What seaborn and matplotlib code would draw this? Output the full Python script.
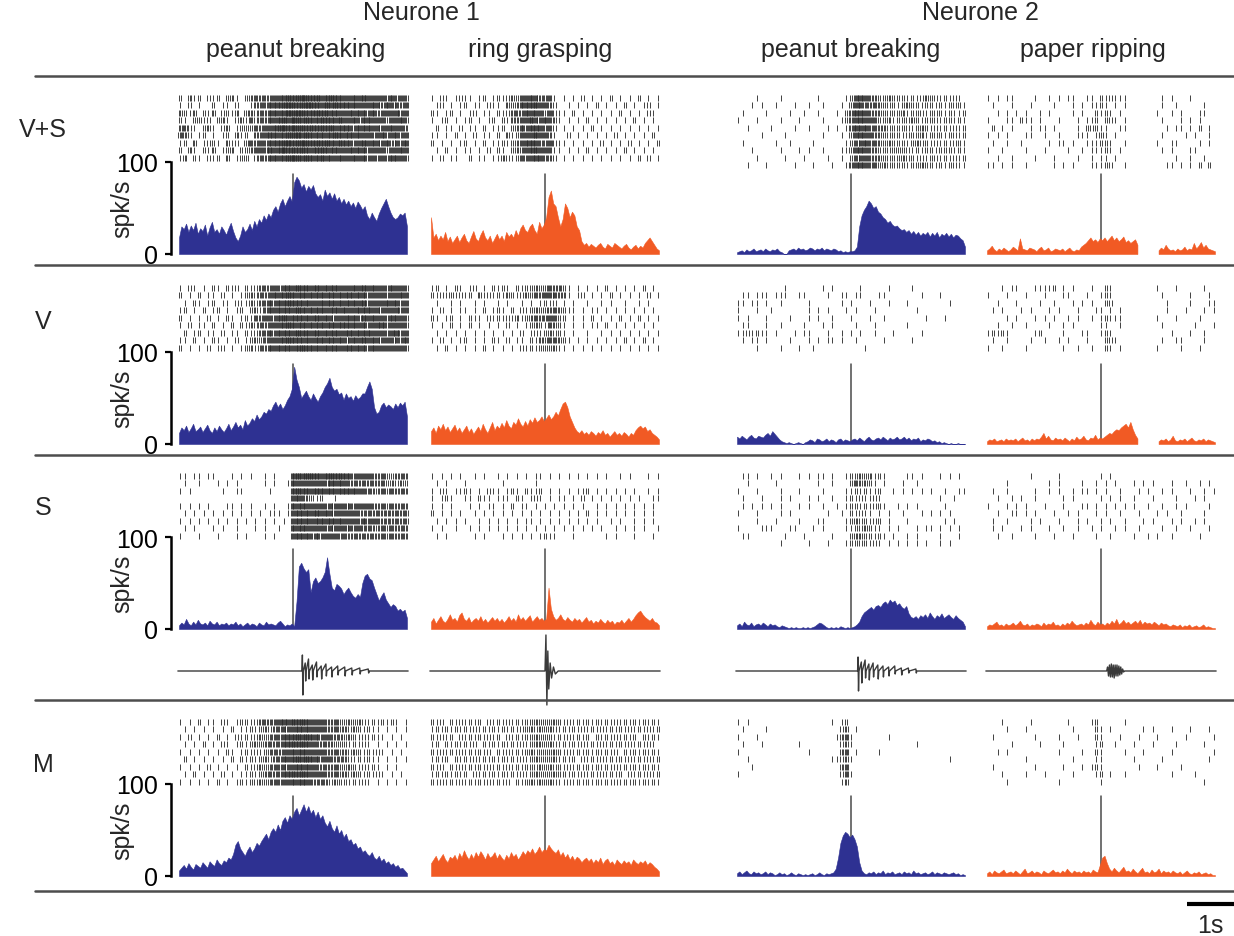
import numpy as np
import pandas as pd
import matplotlib
matplotlib.use("Agg")
import matplotlib.pyplot as plt
from matplotlib.lines import Line2D
import seaborn as sns

nan = float("nan")

# ---------------- labels ----------------
neuron_labels = ["Neurone 1", "Neurone 2"]
action_labels = ["peanut breaking", "ring grasping", "peanut breaking", "paper ripping"]
condition_labels = ["V+S", "V", "S", "M"]
y_tick_values = [0, 100]
y_unit = "spk/s"
scale_bar_seconds = 1
scale_bar_label = "1s"

# time base (s, aligned on the sound event)
T_START, T_END = -2.45, 2.45
PSTH_BIN = 0.05
RASTER_BIN = 0.1
paper_gap = [0.78, 1.19]   # missing period in paper ripping (V+S, V)

# ---------------- PSTH (spk/s), 98 bins of 50 ms ----------------
psth_vs_n1_peanut = [18, 30, 27, 33, 24, 31, 26, 34, 22, 28,
                     25, 32, 20, 29, 35, 24, 27, 22, 30, 26,
                     21, 28, 34, 25, 18, 14, 20, 30, 24, 27,
                     33, 26, 36, 30, 38, 34, 42, 37, 44, 40,
                     48, 52, 46, 55, 60, 52, 58, 63, 57, 78,
                     84, 80, 72, 76, 68, 74, 70, 75, 66, 62,
                     65, 58, 70, 63, 67, 60, 66, 58, 62, 55,
                     60, 54, 58, 52, 56, 50, 57, 53, 48, 52,
                     42, 38, 45, 40, 36, 44, 50, 55, 60, 52,
                     45, 40, 38, 40, 44, 42, 45, 30]
psth_vs_n1_ring = [40, 18, 22, 15, 20, 16, 24, 14, 19, 12,
                   16, 20, 13, 18, 22, 15, 12, 19, 25, 17,
                   14, 21, 26, 18, 15, 20, 12, 17, 22, 16,
                   20, 14, 24, 19, 22, 18, 26, 20, 28, 32,
                   26, 24, 30, 33, 26, 22, 35, 28, 32, 40,
                   62, 69, 55, 52, 40, 30, 38, 55, 50, 40,
                   46, 42, 30, 26, 14, 10, 12, 8, 11, 9,
                   7, 10, 12, 8, 6, 11, 9, 7, 12, 10,
                   8, 6, 9, 11, 7, 5, 8, 10, 6, 9,
                   7, 12, 15, 18, 14, 10, 6, 4]
psth_vs_n2_peanut = [2, 3, 4, 2, 5, 3, 4, 6, 3, 4,
                     5, 3, 6, 4, 3, 5, 4, 6, 3, 2,
                     0, 0, 4, 5, 6, 4, 7, 5, 6, 4,
                     5, 7, 6, 4, 6, 5, 7, 4, 6, 5,
                     4, 6, 5, 3, 4, 2, 3, 2, 3, 3,
                     4, 8, 30, 42, 48, 52, 58, 55, 50, 52,
                     46, 44, 40, 38, 34, 36, 32, 30, 31, 28,
                     26, 27, 24, 26, 22, 25, 21, 24, 20, 23,
                     21, 24, 19, 23, 20, 24, 18, 22, 20, 23,
                     19, 22, 18, 21, 20, 17, 15, 8]
psth_vs_n2_paper = [4, 6, 9, 5, 3, 6, 4, 7, 5, 3,
                    5, 8, 6, 4, 17, 6, 5, 4, 7, 6,
                    5, 3, 6, 8, 4, 5, 7, 3, 4, 6,
                    5, 4, 6, 3, 5, 7, 4, 3, 5, 4,
                    8, 10, 12, 15, 18, 14, 16, 13, 17, 15,
                    18, 14, 17, 20, 15, 18, 14, 16, 19, 13,
                    15, 12, 14, 16, 10, nan, nan, nan, nan, nan,
                    nan, nan, nan, 4, 7, 5, 10, 6, 4, 5,
                    3, 6, 4, 5, 8, 4, 6, 5, 12, 6,
                    9, 13, 7, 10, 6, 5, 4, 3]

psth_v_n1_peanut = [12, 18, 15, 20, 13, 17, 22, 14, 16, 19,
                    13, 17, 21, 15, 12, 18, 14, 20, 16, 13,
                    17, 22, 15, 19, 24, 18, 21, 16, 26, 20,
                    23, 28, 25, 32, 27, 30, 35, 33, 38, 36,
                    42, 46, 40, 44, 38, 42, 48, 52, 60, 84,
                    70, 62, 50, 54, 58, 52, 48, 55, 50, 46,
                    52, 56, 62, 66, 72, 62, 58, 60, 54, 56,
                    48, 55, 50, 52, 47, 53, 49, 51, 55, 55,
                    62, 68, 60, 40, 33, 35, 42, 45, 40, 43,
                    41, 38, 44, 40, 45, 42, 46, 30]
psth_v_n1_ring = [14, 18, 12, 20, 16, 22, 15, 19, 13, 17,
                  21, 14, 18, 12, 16, 20, 13, 17, 11, 15,
                  19, 14, 22, 16, 12, 18, 24, 15, 20, 17,
                  23, 18, 26, 20, 17, 24, 21, 28, 22, 19,
                  25, 20, 27, 23, 29, 24, 26, 30, 25, 28,
                  32, 27, 30, 35, 31, 38, 44, 46, 40, 30,
                  24, 18, 14, 12, 15, 11, 13, 10, 14, 12,
                  9, 13, 11, 15, 10, 12, 8, 11, 14, 10,
                  12, 9, 13, 11, 8, 12, 10, 15, 18, 20,
                  17, 19, 14, 16, 12, 10, 8, 5]
psth_v_n2_peanut = [8, 6, 9, 7, 5, 8, 10, 7, 6, 9,
                    8, 7, 10, 12, 9, 14, 11, 8, 5, 3,
                    2, 1, 2, 1, 0, 1, 2, 1, 0, 2,
                    3, 5, 4, 2, 6, 5, 3, 4, 6, 3,
                    5, 4, 2, 5, 6, 3, 5, 4, 3, 5,
                    6, 4, 7, 5, 3, 6, 8, 5, 4, 6,
                    7, 5, 8, 6, 4, 7, 5, 6, 8, 5,
                    6, 8, 5, 7, 4, 6, 5, 7, 3, 5,
                    4, 6, 5, 3, 4, 2, 3, 1, 2, 1,
                    0, 1, 0, 0, 1, 0, 0, 0]
psth_v_n2_paper = [3, 5, 4, 6, 3, 4, 5, 3, 6, 4,
                   5, 4, 6, 3, 5, 7, 4, 5, 3, 6,
                   4, 6, 5, 8, 12, 6, 9, 5, 4, 7,
                   5, 6, 4, 7, 5, 3, 6, 4, 8, 5,
                   6, 9, 5, 4, 7, 6, 10, 5, 7, 6,
                   8, 10, 12, 11, 14, 16, 15, 18, 20, 22,
                   18, 24, 16, 10, 6, nan, nan, nan, nan, nan,
                   nan, nan, nan, 3, 5, 4, 6, 3, 5, 9,
                   4, 3, 5, 4, 6, 3, 5, 7, 4, 3,
                   5, 4, 6, 3, 5, 4, 3, 2]

psth_s_n1_peanut = [4, 7, 5, 11, 6, 4, 8, 5, 10, 6,
                    5, 7, 4, 9, 6, 5, 8, 4, 6, 5,
                    7, 4, 6, 5, 8, 4, 6, 3, 5, 7,
                    4, 6, 5, 3, 7, 5, 4, 8, 5, 6,
                    5, 4, 7, 9, 6, 3, 5, 4, 6, 3,
                    30, 68, 72, 66, 62, 65, 40, 52, 56, 50,
                    52, 56, 62, 78, 60, 45, 42, 49, 47, 44,
                    38, 42, 45, 40, 36, 34, 38, 35, 50, 58,
                    60, 55, 53, 45, 38, 31, 36, 40, 32, 28,
                    24, 27, 25, 20, 22, 19, 21, 12]
psth_s_n1_ring = [8, 12, 6, 10, 14, 9, 7, 11, 16, 10,
                  12, 8, 15, 18, 11, 9, 13, 7, 10, 12,
                  9, 14, 8, 11, 7, 10, 13, 9, 12, 8,
                  11, 7, 10, 14, 9, 12, 8, 16, 10, 13,
                  9, 12, 15, 8, 11, 14, 10, 12, 9, 11,
                  45, 22, 14, 10, 12, 16, 11, 9, 13, 10,
                  8, 12, 9, 11, 7, 10, 13, 8, 10, 6,
                  9, 7, 11, 8, 6, 10, 7, 9, 5, 8,
                  7, 10, 6, 9, 12, 8, 11, 15, 18, 20,
                  16, 13, 11, 9, 12, 8, 7, 4]
psth_s_n2_peanut = [4, 6, 3, 8, 5, 4, 7, 3, 5, 6,
                    4, 7, 5, 3, 6, 4, 5, 3, 2, 4,
                    3, 2, 1, 2, 1, 2, 1, 1, 2, 1,
                    2, 1, 2, 3, 5, 7, 6, 4, 2, 1,
                    2, 1, 2, 1, 3, 2, 1, 2, 1, 2,
                    3, 5, 8, 14, 18, 20, 22, 24, 21, 25,
                    26, 24, 28, 30, 27, 32, 29, 31, 26, 28,
                    24, 22, 25, 17, 13, 12, 14, 11, 15, 13,
                    16, 12, 18, 14, 11, 15, 13, 17, 12, 14,
                    16, 13, 11, 15, 12, 10, 8, 3]
psth_s_n2_paper = [3, 5, 4, 6, 8, 4, 5, 3, 6, 4,
                   5, 7, 4, 6, 9, 5, 4, 6, 3, 5,
                   4, 6, 5, 3, 7, 4, 6, 5, 8, 4,
                   5, 3, 6, 4, 7, 5, 9, 6, 4, 5,
                   6, 4, 7, 5, 10, 6, 4, 8, 5, 6,
                   4, 7, 5, 9, 6, 11, 5, 7, 10, 6,
                   8, 5, 7, 9, 6, 10, 5, 8, 6, 7,
                   5, 8, 6, 4, 7, 5, 6, 4, 3, 5,
                   4, 3, 5, 2, 4, 3, 5, 2, 3, 4,
                   2, 3, 5, 2, 3, 2, 1, 1]

psth_m_n1_peanut = [6, 9, 12, 8, 14, 10, 7, 13, 11, 9,
                    15, 12, 9, 16, 13, 11, 18, 14, 12, 17,
                    15, 20, 18, 24, 34, 38, 30, 26, 22, 28,
                    32, 26, 30, 36, 33, 38, 42, 46, 40, 48,
                    52, 48, 56, 50, 60, 64, 58, 66, 62, 70,
                    74, 66, 72, 78, 70, 76, 68, 72, 64, 70,
                    62, 66, 58, 54, 60, 52, 48, 55, 46, 50,
                    42, 46, 38, 40, 34, 36, 30, 32, 26, 28,
                    24, 22, 26, 20, 18, 22, 16, 19, 14, 16,
                    12, 14, 10, 12, 8, 9, 6, 3]
psth_m_n1_ring = [14, 18, 22, 16, 20, 24, 18, 15, 21, 19,
                  23, 17, 25, 20, 28, 22, 18, 24, 19, 26,
                  21, 27, 23, 18, 25, 20, 22, 26, 19, 24,
                  20, 17, 23, 19, 26, 21, 24, 18, 22, 27,
                  23, 28, 25, 30, 24, 27, 32, 26, 29, 28,
                  34, 30, 27, 25, 29, 22, 26, 20, 24, 18,
                  22, 17, 21, 19, 15, 18, 20, 16, 19, 14,
                  18, 15, 20, 13, 17, 19, 14, 16, 12, 18,
                  15, 13, 17, 14, 16, 12, 18, 15, 13, 16,
                  14, 17, 12, 15, 13, 10, 8, 5]
psth_m_n2_peanut = [3, 5, 2, 4, 6, 3, 2, 5, 3, 4,
                    2, 3, 5, 2, 4, 3, 1, 2, 4, 2,
                    3, 1, 2, 4, 2, 1, 3, 2, 1, 2,
                    1, 2, 3, 1, 2, 4, 2, 1, 3, 2,
                    3, 4, 8, 20, 36, 44, 48, 46, 42, 45,
                    40, 32, 15, 6, 3, 2, 4, 3, 5, 2,
                    4, 3, 6, 2, 4, 3, 5, 2, 3, 4,
                    2, 5, 3, 4, 2, 6, 3, 4, 2, 3,
                    4, 2, 3, 5, 2, 4, 3, 2, 4, 3,
                    2, 3, 4, 2, 3, 1, 2, 1]
psth_m_n2_paper = [3, 5, 2, 6, 4, 3, 5, 7, 3, 4,
                   5, 3, 6, 4, 2, 5, 8, 3, 4, 6,
                   3, 5, 4, 2, 6, 4, 3, 5, 7, 4,
                   5, 3, 6, 4, 8, 5, 3, 6, 4, 5,
                   3, 6, 4, 5, 3, 7, 5, 4, 12, 20,
                   22, 14, 8, 5, 9, 6, 4, 7, 10, 5,
                   6, 4, 8, 5, 3, 6, 9, 4, 5, 3,
                   7, 4, 5, 8, 3, 6, 4, 5, 3, 6,
                   4, 3, 5, 2, 4, 6, 3, 2, 4, 3,
                   5, 2, 3, 4, 2, 3, 1, 1]

# ---------------- rasters: spikes per 100 ms bin, one string per trial ----------------
raster_vs_n1_peanut = [
    "2031202 1202310 2343435 5676787 6756766 5465655 4546354",
    "1020100 2011020 0134456 6787678 7657676 6565456 5364535",
    "3213021 3022130 3324356 5687876 6767565 4656546 3454645",
    "2102312 0231023 1424355 6758767 6576657 5464565 4535464",
    "3421023 1023012 3243546 7868776 7676756 6546565 5456453",
    "4320120 1012031 2034566 5677867 6565676 5656454 4645545",
    "1203012 2103120 3435456 6786787 6767657 6545656 5463546",
    "2031021 3012302 2345465 6867676 5676565 4656545 4535465",
    "1302102 1203012 3024356 5678767 6575646 5465545 3546554"]
raster_vs_n1_ring = [
    "1021012 1101201 2123245 6534410 1010201 0102010 1020101",
    "0120101 2011021 1032356 6745320 0101010 2010102 0101201",
    "2101201 0120110 2123436 5643521 1020101 0101020 1010210",
    "1012010 1201012 0213345 7546431 0101020 1010101 0201010",
    "0201102 0110201 1202354 6654420 1010102 0101010 1010101",
    "1101020 1020110 2031245 5745310 0201010 1010201 0101020",
    "2010101 2010201 1212346 6634521 1010101 0201010 2010102",
    "0102010 1101020 2102335 6745411 0101020 1010102 0101010",
    "1020110 0201101 1321244 5654320 1010101 0101010 1020201"]
raster_vs_n2_peanut = [
    "0000100 0010000 0001000 0012565 4322322 2121232 2121210",
    "0001010 0100010 0100100 0103554 3432221 2322122 1212221",
    "0100001 0000100 1001000 1024665 4332222 3122212 2212112",
    "1000100 0010001 0000100 0124565 5422312 2232122 2122121",
    "0010000 1000010 0100010 1014656 4433222 2212321 2121212",
    "0000010 0001000 0000100 0103565 5332222 1222312 2212212",
    "0100000 0100100 0010000 0012456 4432322 2123221 2121221",
    "0001000 0010001 0100100 0113565 4322223 2212122 1222121",
    "0000100 0001000 1000010 0102455 4332222 3221212 2121212",
    "0010001 0000010 0010001 0014565 4423222 2122322 1212211"]
raster_vs_n2_paper = [
    "1010110 0001001 0101100 1102121 1100000 0010100 0100000",
    "0100010 0010000 1000101 0112101 0100000 0010010 0000100",
    "0010101 0100101 0000101 0021210 1000000 0100101 0001100",
    "1000110 2110100 0100010 1120221 0100000 0010001 0101000",
    "0201010 0010110 1000010 2221100 1100000 0001011 0102010",
    "1010100 0110010 0100011 1013101 0000000 0010000 1010010",
    "0100100 1000001 0110100 1112210 0100000 0100110 0001010",
    "1001000 0100010 0001001 0111210 1000000 0010100 0110000",
    "0010010 0001000 1000010 0101101 0000000 0000010 0100100",
    "1101010 0100000 1010100 0111220 0100000 0001101 0102020"]

raster_v_n1_peanut = [
    "1021010 2102120 2123435 4565766 5656565 5465656 4546454",
    "2010201 1020101 2324346 5676565 6565656 5656545 4545465",
    "0102101 2011021 1323454 6576656 5465656 5565645 4565545",
    "1201020 1201012 0231455 6565765 6565565 6456565 5454645",
    "2010102 0102101 2143544 6756656 5656545 5564656 4546554",
    "1020110 2010202 1324345 5676565 6565656 6565545 5645454",
    "0201201 1020110 2123454 6565766 5656565 5656565 4545645",
    "1102010 2101020 1232445 5676656 5565656 4565656 5454546",
    "2010102 0120101 2314355 6565676 6556565 5656546 4555454"]
raster_v_n1_ring = [
    "1201021 0120102 1210212 2323434 2101010 1020101 0102010",
    "2121312 1203121 2132123 2435453 3101201 0102010 1010201",
    "0100101 0010100 1010010 1012120 1010010 0101001 0010100",
    "1020101 1010201 2102021 2323343 2110101 1010101 0101010",
    "2101201 0211021 2121312 3434542 2010102 0101020 1020101",
    "1010201 0201010 1020101 2321432 1010101 1020101 0101010",
    "0101010 1010101 0101020 1212322 1010010 0101010 1010101",
    "1020101 2010102 1020110 2133443 2101010 1010102 0102010",
    "0102010 1010201 0101021 2123231 1010101 0101010 1010101"]
raster_v_n2_peanut = [
    "0000000 0001000 0000101 0000010 0000100 0010000 0000000",
    "0110111 0111001 1000010 0110110 0011000 0000100 0100000",
    "1101101 0010000 0100000 0101000 1000100 0100000 0001000",
    "1000100 1000000 0101010 0010100 0100000 0001000 0000000",
    "1010001 0000100 0101001 0001000 1001000 0000010 0010000",
    "0110001 0010000 1000101 0000100 0100000 0100000 0000000",
    "1121211 0100010 1100010 0101010 0100010 0000100 0000000",
    "0101101 0000100 0101011 0100100 0001000 0010000 0000000",
    "0000100 0010001 0010000 0000001 0000000 0000000 0000000"]
raster_v_n2_paper = [
    "0001011 0001111 2010100 0100210 0000000 0100010 0000100",
    "1000100 0100010 0011000 1001210 0000000 0010000 0100010",
    "0010001 0000100 1000101 0100220 0000000 0001000 0100011",
    "0101000 1010001 0100010 0011010 1000000 0001000 1000101",
    "0000101 0001010 1001010 0101211 1000000 0100010 0001000",
    "0010010 0100001 0010100 0001100 1000000 0010000 0010001",
    "1212100 0001200 0010001 1001210 0000000 0000100 0100100",
    "0100100 0010010 0101000 1000221 0000000 0010011 0000100",
    "1001000 0100000 0010010 0100210 1000000 0100001 0001000"]

raster_s_n1_peanut = [
    "1101101 1000101 0100101 0006767 7656767 6545454 3432343",
    "0100100 0101010 0000101 0016545 5454656 5343434 3423232",
    "1010000 0010011 0000010 0006766 5665656 6565443 3434343",
    "0000000 0000000 0000000 0005643 2120010 0000000 0000000",
    "1010101 0001101 0100101 0016565 5454545 4545454 3434343",
    "0101010 1010101 0101011 1015656 5656545 5454343 4343434",
    "1010101 0101010 1010101 0105656 5565656 5454545 4343434",
    "0101000 1010010 0010100 1006565 5454545 4545343 3434343",
    "1000100 0100010 1000101 0005656 4545454 4343434 3434343"]
raster_s_n1_ring = [
    "1010101 0010100 1010101 0110101 0101010 1010010 1000101",
    "0101000 1000000 0100000 0100000 0000000 0000000 0000000",
    "1021011 2101021 1012102 1120101 0101120 1010101 0100101",
    "1012100 1102110 1110210 1210101 1010201 0101010 1010011",
    "1010100 0101011 0102011 0101010 1010100 1010101 0101010",
    "2010101 0010101 0101010 1010101 0101020 1010101 0101010",
    "0101010 1001010 1010101 1010101 0101010 1001010 0101010",
    "1010010 0101010 1010101 0101010 1010101 0100101 0101001",
    "0101000 0010100 0101010 1012110 0010000 0010100 0100010"]
raster_s_n2_peanut = [
    "0110100 1010001 0101101 0012232 3121000 0110100 0101010",
    "0010000 0100000 0001001 0002433 2101000 1001000 0000000",
    "1000100 0010001 0000100 0011212 1120010 1010101 0010011",
    "0100010 0010100 0101001 0012121 1210000 0000000 0100100",
    "0101010 1010001 0100100 1012212 1221001 0101000 0010000",
    "1000100 0010100 0000010 0102121 1010100 1000101 0101000",
    "0000100 0100001 0001100 0012322 1220100 0100000 0010100",
    "1000011 1000110 0010100 0011223 2110101 0001011 0101010",
    "0110000 0001000 1000001 0002332 2121010 0101000 0100010",
    "0000000 0010000 0100010 0012222 1210101 0101010 0101000"]
raster_s_n2_paper = [
    "0000000 0010000 0100000 0001010 0000000 0000000 0000000",
    "0000100 0000001 0100001 0010101 0001010 1000100 1001010",
    "0100100 0001001 0100101 1010100 1000101 0010100 0100101",
    "0010010 1001000 0010100 0001010 1001000 1000010 0010100",
    "1000101 0100010 0010001 1010101 0101001 0010010 1000010",
    "0010011 0101000 1001010 0010100 1000100 0101001 0000100",
    "0100100 0010100 0100010 1001010 0100010 1000101 0010100",
    "0101000 1010001 0010010 0101001 0100100 0010010 0100010",
    "0010010 0001000 1000100 0010010 0001001 0100100 0001000"]

raster_m_n1_peanut = [
    "1010201 1021012 2123434 5657676 5454343 2323212 1212101",
    "0101010 1010201 1212323 4545656 5454343 3232121 1010101",
    "1020101 0201021 2123234 4566767 6545434 2321212 1101010",
    "0101020 1021012 1232343 4567676 5434323 2121210 1010101",
    "1010101 0102101 2121234 3456565 5454343 3232121 2101010",
    "0201010 1010202 1212323 4556767 6545434 3212121 1010101",
    "1010102 0101010 2123234 4545656 5434343 2321212 1010100",
    "0102010 1020101 1212343 4567676 5454343 3232121 2101010",
    "1010101 0201012 1223234 4456565 4343232 2121210 1010101"]
raster_m_n1_ring = [
    "2120212 1212021 2121212 2323232 1212121 2121212 1212121",
    "1212121 2121212 1212122 3232321 2121212 1212121 2121212",
    "2121202 1212121 2021212 2323212 1212120 2121212 1202121",
    "1202121 2120212 1212121 2332321 2121212 1212121 2121210",
    "2121212 1212120 2121212 3223232 1212121 2121202 1212121",
    "1212021 2121212 1212121 2323231 2120212 1212121 2121212",
    "2120212 1212121 2121212 2232322 1212121 2121212 1212121",
    "1212121 2021212 1212121 2323232 2121212 1212120 2121212",
    "2121212 1212121 2120212 3232321 1212121 2121212 1212121"]
raster_m_n2_peanut = [
    "1010000 0000000 0000001 0120000 0000000 0000000 0000000",
    "0100001 0000000 0000000 0230100 0000000 0000000 0000000",
    "1000100 0000000 0000000 1341000 0000100 0000000 0000000",
    "0100010 0000001 0000000 0231000 0000000 0001000 0000000",
    "1000000 0000000 0100000 0340100 0010000 0000000 0000000",
    "0010000 0000000 0000001 1231000 0000000 0000000 0001000",
    "0001000 0000000 0000000 0340000 0000000 0000000 0000000",
    "1000000 0000000 0000000 0241000 0000000 0000000 0000000",
    "0000000 0000000 0000000 0130000 0000000 0000000 0000000"]
raster_m_n2_paper = [
    "0001000 0010000 0001000 0120000 0100000 0000000 0000000",
    "0000100 0100000 0000100 0021010 0000010 1000100 0100010",
    "0100000 0001000 0100010 0021000 1000100 0100000 1000001",
    "0000010 0000100 0010000 0012001 0001000 1000010 0000100",
    "0010100 0000000 0100001 0021000 0100010 0000100 0000001",
    "0000000 0100000 0000100 0011000 0001000 0010000 0000010",
    "0100000 0001000 0010001 0121000 0000100 0100001 0000000",
    "0001000 0100010 0000100 0012010 0100000 0000100 0010000",
    "0000100 0000000 0100000 0001000 0000000 0000000 0000100"]

# ---------------- sound oscillograms (time s, amplitude a.u.) ----------------
sound_n1_peanut_t = [-2.45, 0.19, 0.20, 0.21, 0.22, 0.26, 0.27, 0.28, 0.33, 0.34, 0.35,
                     0.41, 0.42, 0.43, 0.50, 0.51, 0.52, 0.60, 0.61, 0.62, 0.70, 0.71, 0.72,
                     0.82, 0.83, 0.84, 0.95, 0.96, 0.97, 1.10, 1.11, 1.12, 1.25, 1.26, 1.27,
                     1.42, 1.43, 1.44, 1.60, 1.61, 1.62, 2.45]
sound_n1_peanut_a = [0, 0, 16, -24, 0, 8, -10, 0, 12, -8, 0,
                     6, -9, 0, 9, -6, 0, 5, -8, 0, 7, -5, 0,
                     4, -6, 0, 5, -4, 0, 4, -5, 0, 3, -4, 0,
                     3, -3, 0, 2, -2, 0, 0]
sound_n1_ring_t = [-2.45, 0.0, 0.02, 0.04, 0.06, 0.08, 0.11, 0.14, 0.18, 0.22, 0.28, 2.45]
sound_n1_ring_a = [0, 0, 36, -34, 20, -18, 8, -7, 4, -3, 0, 0]
sound_n2_peanut_t = [-2.45, 0.14, 0.15, 0.16, 0.17, 0.22, 0.23, 0.24, 0.30, 0.31, 0.32,
                     0.38, 0.39, 0.40, 0.47, 0.48, 0.49, 0.57, 0.58, 0.59, 0.68, 0.69, 0.70,
                     0.80, 0.81, 0.82, 0.93, 0.94, 0.95, 1.07, 1.08, 1.09, 1.22, 1.23, 1.24,
                     1.38, 1.39, 1.40, 2.45]
sound_n2_peanut_a = [0, 0, 14, -20, 0, 9, -12, 0, 11, -7, 0,
                     7, -9, 0, 8, -6, 0, 6, -8, 0, 5, -6, 0,
                     4, -5, 0, 5, -3, 0, 3, -4, 0, 3, -2, 0,
                     2, -2, 0, 0]
sound_n2_paper_t = [-2.45, 0.12, 0.14, 0.16, 0.18, 0.20, 0.22, 0.24, 0.26, 0.28, 0.30, 0.32,
                    0.34, 0.36, 0.38, 0.40, 0.42, 0.44, 0.46, 0.48, 0.50, 2.45]
sound_n2_paper_a = [0, 0, 4, -5, 6, -6, 7, -6, 6, -7, 6, -5,
                    6, -5, 5, -4, 4, -3, 2, -1, 0, 0]

# ---------------- assemble ----------------
psth_table = [
    [psth_vs_n1_peanut, psth_vs_n1_ring, psth_vs_n2_peanut, psth_vs_n2_paper],
    [psth_v_n1_peanut, psth_v_n1_ring, psth_v_n2_peanut, psth_v_n2_paper],
    [psth_s_n1_peanut, psth_s_n1_ring, psth_s_n2_peanut, psth_s_n2_paper],
    [psth_m_n1_peanut, psth_m_n1_ring, psth_m_n2_peanut, psth_m_n2_paper],
]
raster_table = [
    [raster_vs_n1_peanut, raster_vs_n1_ring, raster_vs_n2_peanut, raster_vs_n2_paper],
    [raster_v_n1_peanut, raster_v_n1_ring, raster_v_n2_peanut, raster_v_n2_paper],
    [raster_s_n1_peanut, raster_s_n1_ring, raster_s_n2_peanut, raster_s_n2_paper],
    [raster_m_n1_peanut, raster_m_n1_ring, raster_m_n2_peanut, raster_m_n2_paper],
]
gap_table = [[None, None, None, paper_gap], [None, None, None, paper_gap],
             [None, None, None, None], [None, None, None, None]]
sound_table = [(sound_n1_peanut_t, sound_n1_peanut_a), (sound_n1_ring_t, sound_n1_ring_a),
               (sound_n2_peanut_t, sound_n2_peanut_a), (sound_n2_paper_t, sound_n2_paper_a)]

# ---------------- style / layout ----------------
BLUE = "#2E3192"
ORANGE = "#F15A24"
col_colors = [BLUE, ORANGE, BLUE, ORANGE]
FONT = ["Liberation Sans", "DejaVu Sans"]
FS = 18

sns.set_theme(style="white")
plt.rcParams["font.family"] = FONT

W, H = 1234, 937
fig = plt.figure(figsize=(W / 100, H / 100), dpi=100)


def rect(x0, y_top, w, h):
    return [x0 / W, 1 - (y_top + h) / H, w / W, h / H]


EVENT_X = [293, 545, 851, 1101]
PANEL_W = 235            # 5 s at 47 px/s
PSTH_H = 92
BASELINE = [255, 445, 630, 877]
RASTER_TOP = [94, 284, 472, 718]
RASTER_H = 77
SOUND_Y = 672
SOUND_H = 80
SEP_Y = [77, 266, 456, 701, 892]

n_bins = int(round((T_END - T_START) / PSTH_BIN))
edges = T_START + PSTH_BIN * np.arange(n_bins + 1)
centers = (edges[:-1] + edges[1:]) / 2


def draw_psth(ax, values, color):
    v = np.array(values, dtype=float)
    idx = np.where(~np.isnan(v))[0]
    runs = np.split(idx, np.where(np.diff(idx) > 1)[0] + 1)
    for run in runs:
        if len(run) == 0:
            continue
        df = pd.DataFrame({"t": centers[run], "rate": v[run]})
        lo = float(edges[run[0]])
        hi = float(edges[run[-1] + 1])
        sns.histplot(data=df, x="t", weights="rate", binwidth=PSTH_BIN,
                     binrange=(lo, hi - 1e-6),
                     element="poly", fill=True, color=color, alpha=1, linewidth=0.4,
                     edgecolor=color, ax=ax, stat="count", zorder=2)


def raster_frame(rows, gap):
    ts, ys = [], []
    for i, row in enumerate(rows):
        s = row.replace(" ", "")
        for k, ch in enumerate(s):
            n = int(ch)
            start = T_START + k * RASTER_BIN
            for j in range(n):
                t = start + (j + 0.5) / n * RASTER_BIN
                if gap is not None and gap[0] < t < gap[1]:
                    continue
                ts.append(t)
                ys.append(i)
    return pd.DataFrame({"t": ts, "trial": ys})


for r in range(4):
    for c in range(4):
        # raster
        axr = fig.add_axes(rect(EVENT_X[c] - PANEL_W / 2, RASTER_TOP[r], PANEL_W, RASTER_H))
        dfr = raster_frame(raster_table[r][c], gap_table[r][c])
        sns.scatterplot(data=dfr, x="t", y="trial", marker="|", s=13, color="#2b2b2b",
                        linewidth=0.7, alpha=0.9, ax=axr, legend=False)
        axr.set_xlim(-2.5, 2.5)
        axr.set_ylim(9.6, -0.6)
        axr.axis("off")

        # PSTH
        axp = fig.add_axes(rect(EVENT_X[c] - PANEL_W / 2, BASELINE[r] - PSTH_H, PANEL_W, PSTH_H))
        axp.axvline(0, ymin=0, ymax=0.87, color="#4a4a4a", lw=1.1, zorder=1)
        draw_psth(axp, psth_table[r][c], col_colors[c])
        axp.set_xlim(-2.5, 2.5)
        axp.set_ylim(0, 100)
        axp.set_xlabel("")
        axp.set_ylabel("")
        if c == 0:
            for sp in ["top", "right", "bottom"]:
                axp.spines[sp].set_visible(False)
            axp.spines["left"].set_visible(True)
            axp.spines["left"].set_color("black")
            axp.spines["left"].set_linewidth(1.8)
            axp.spines["left"].set_bounds(0, 100)
            axp.spines["left"].set_position(("outward", 3))
            axp.set_yticks(y_tick_values)
            axp.set_yticklabels([str(v) for v in y_tick_values], fontsize=FS)
            axp.tick_params(axis="y", left=True, length=4.5, width=1.6, pad=5, colors="black")
            axp.set_xticks([])
            axp.set_facecolor("none")
            fig.text(122 / W, 1 - (BASELINE[r] - 46) / H, y_unit, rotation=90,
                     ha="center", va="center", fontsize=FS)
        else:
            axp.axis("off")

        if r == 3 and c == 3:
            axp.plot([1.83, 1.83 + scale_bar_seconds], [-30, -30], color="black",
                     lw=3, clip_on=False, solid_capstyle="butt")
            axp.text(1.83 + scale_bar_seconds / 2, -40, scale_bar_label, ha="center",
                     va="top", fontsize=FS)

# sound oscillograms (between S and M rows)
for c in range(4):
    axs = fig.add_axes(rect(EVENT_X[c] - PANEL_W / 2, SOUND_Y - SOUND_H / 2, PANEL_W, SOUND_H))
    st, sa = sound_table[c]
    sns.lineplot(x=st, y=sa, color="#3a3a3a", lw=1.0, ax=axs, sort=False, estimator=None)
    axs.set_xlim(-2.5, 2.5)
    axs.set_ylim(-40, 40)
    axs.axis("off")
    for ln in axs.lines:
        ln.set_clip_on(False)

# separators
for y in SEP_Y:
    fig.add_artist(Line2D([35 / W, 1.0], [1 - y / H, 1 - y / H], color="#4d4d4d", lw=1.8))

# headings
fig.text(421 / W, 1 - 13 / H, neuron_labels[0], ha="center", va="center", fontsize=FS)
fig.text(980 / W, 1 - 13 / H, neuron_labels[1], ha="center", va="center", fontsize=FS)
for x, lab in zip([296, 540, 851, 1093], action_labels):
    fig.text(x / W, 1 - 50 / H, lab, ha="center", va="center", fontsize=FS)
for y, lab in zip([130, 322, 508, 765], condition_labels):
    fig.text(43 / W, 1 - y / H, lab, ha="center", va="center", fontsize=FS)

fig.savefig("out.png", dpi=100, facecolor="white")
